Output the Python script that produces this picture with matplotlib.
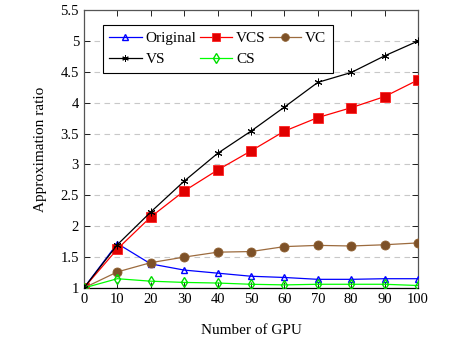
import matplotlib
matplotlib.use("Agg")
import matplotlib.pyplot as plt

plt.rcParams['font.family'] = ['Liberation Serif', 'DejaVu Serif']

gpus = [0, 10, 20, 30, 40, 50, 60, 70, 80, 90, 100]
original = [1.0, 1.72, 1.39, 1.29, 1.24, 1.19, 1.17, 1.14, 1.14, 1.15, 1.15]
vcs = [1.0, 1.63, 2.15, 2.57, 2.91, 3.22, 3.54, 3.76, 3.92, 4.10, 4.37]
vc = [1.0, 1.26, 1.41, 1.50, 1.58, 1.59, 1.67, 1.69, 1.68, 1.70, 1.73]
vs = [1.0, 1.70, 2.23, 2.73, 3.18, 3.54, 3.93, 4.33, 4.49, 4.76, 5.0]
cs = [1.0, 1.15, 1.11, 1.09, 1.08, 1.06, 1.05, 1.06, 1.06, 1.06, 1.04]

yticks = [1, 1.5, 2, 2.5, 3, 3.5, 4, 4.5, 5, 5.5]
ytick_labels = ['1', '1.5', '2', '2.5', '3', '3.5', '4', '4.5', '5', '5.5']
xticks = gpus

fig = plt.figure(figsize=(4.51, 3.38), dpi=100)
ax = fig.add_axes([0.186, 0.148, 0.741, 0.822])

h_orig, = ax.plot(gpus, original, color='#0000ff', lw=0.9, marker='^', ms=5,
                  mfc='none', mec='#0000ff', mew=1.0, label='Original', zorder=3)
h_vcs, = ax.plot(gpus, vcs, color='#ff0000', lw=0.9, marker='s', ms=6.5,
                 mfc='#e00000', mec='#ff2020', mew=0.6, label='VCS', zorder=3)
h_vc, = ax.plot(gpus, vc, color='#9c6b3e', lw=0.9, marker='o', ms=6.5,
                mfc='#7d5128', mec='#8f6030', mew=0.6, label='VC', zorder=3)
h_vs, = ax.plot(gpus, vs, color='black', lw=0.9, marker=(6, 2, 0), ms=5.5,
                mew=0.7, label='VS', zorder=4)
h_cs, = ax.plot(gpus, cs, color='#00ff00', lw=0.9, marker='d', ms=5.5,
                mfc='none', mec='#00dd00', mew=1.0, label='CS', zorder=3)

ax.set_xlim(0, 100)
ax.set_ylim(1, 5.5)
ax.set_xticks(xticks)
ax.set_yticks(yticks)
ax.set_yticklabels(ytick_labels)
ax.tick_params(direction='in', top=True, right=True, labelsize=10.5, length=4, width=0.6)
ax.yaxis.grid(True, linestyle=(0, (5, 4)), color='#c8c8c8', lw=0.8)
ax.set_axisbelow(True)
for s in ax.spines.values():
    s.set_linewidth(0.9)
    s.set_color('#555555')
ax.spines['bottom'].set_color('black')

ax.set_xlabel('Number of GPU', fontsize=11, labelpad=13)
ax.set_ylabel('Approximation ratio', fontsize=11, labelpad=10)

handles = [h_orig, h_vs, h_vcs, h_cs, h_vc]
leg = ax.legend(handles, [h.get_label() for h in handles], loc='upper left', ncol=3,
                fontsize=11, frameon=True, fancybox=False, markerscale=0.85,
                edgecolor='black', framealpha=1, handlelength=2.1, columnspacing=0.25,
                handletextpad=0.25, borderpad=0.45, labelspacing=0.45,
                bbox_to_anchor=(0.033, 0.975))
leg.get_frame().set_linewidth(0.8)

fig.savefig('out.png', dpi=100)
